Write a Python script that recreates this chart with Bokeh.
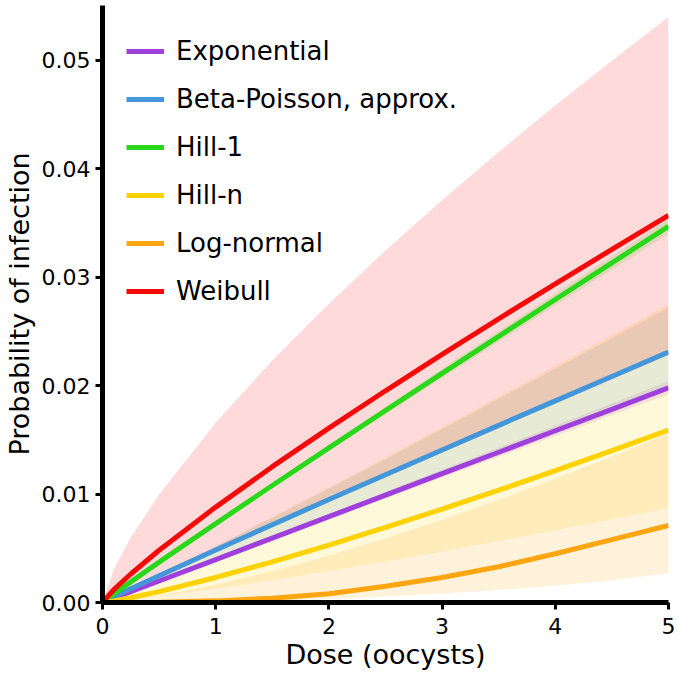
from bokeh.plotting import figure
from bokeh.models import Range1d, FixedTicker, Legend, LegendItem
from bokeh.embed import file_html
from bokeh.resources import INLINE

# ---- data ----
dose = [0, 0.1, 0.25, 0.5, 1, 1.5, 2, 2.5, 3, 3.5, 4, 4.5, 5]

exponential = [0, 0.0004, 0.00099, 0.00198, 0.00396, 0.00594, 0.00792, 0.0099, 0.01188, 0.01386, 0.01584, 0.01782, 0.0198]
exponential_lo = [0, 0.00038, 0.00096, 0.00192, 0.00384, 0.00576, 0.00768, 0.0096, 0.01152, 0.01344, 0.01536, 0.01729, 0.0192]
exponential_hi = [0, 0.00041, 0.00102, 0.00204, 0.00408, 0.00612, 0.00816, 0.0102, 0.01224, 0.01428, 0.01632, 0.01835, 0.0204]

beta_poisson = [0, 0.00052, 0.00126, 0.00247, 0.00485, 0.00718, 0.0095, 0.01179, 0.01407, 0.01634, 0.0186, 0.02085, 0.0231]
beta_poisson_lo = [0, 0.00044, 0.00107, 0.0021, 0.00411, 0.0061, 0.00806, 0.01, 0.01194, 0.01387, 0.01579, 0.01769, 0.0196]
beta_poisson_hi = [0, 0.00056, 0.00132, 0.0026, 0.0052, 0.00785, 0.01052, 0.01322, 0.01599, 0.01877, 0.02157, 0.02437, 0.0272]

hill1 = [0, 0.00078, 0.0019, 0.00372, 0.00728, 0.01079, 0.01427, 0.01771, 0.02114, 0.02455, 0.02795, 0.03133, 0.0347]
hill1_lo = [0, 0.00076, 0.00186, 0.00365, 0.00713, 0.01057, 0.01398, 0.01736, 0.02072, 0.02406, 0.02739, 0.0307, 0.034]
hill1_hi = [0, 0.0008, 0.00194, 0.0038, 0.00743, 0.01101, 0.01456, 0.01806, 0.02156, 0.02504, 0.02851, 0.03196, 0.0354]

hilln = [0, 0.00015, 0.00044, 0.001, 0.00231, 0.00375, 0.0053, 0.00692, 0.00861, 0.01036, 0.01216, 0.01401, 0.0159]
hilln_lo = [0, 0.00008, 0.00024, 0.00055, 0.00126, 0.00205, 0.0029, 0.00379, 0.00471, 0.00567, 0.00666, 0.00767, 0.0087]
hilln_hi = [0, 0.00047, 0.00122, 0.00251, 0.00516, 0.00787, 0.0106, 0.01337, 0.01617, 0.01898, 0.02181, 0.02464, 0.0275]

lognormal = [0, 0, 0.0, 0.00002, 0.00015, 0.0004, 0.0008, 0.0015, 0.0023, 0.0033, 0.0045, 0.0058, 0.0071]
lognormal_lo = [0, 0, 0, 0.00001, 0.00006, 0.00016, 0.00033, 0.00055, 0.00082, 0.00115, 0.00155, 0.00205, 0.0027]
lognormal_hi = [0, 0.00007, 0.00024, 0.00062, 0.00164, 0.00289, 0.00432, 0.00591, 0.00763, 0.00947, 0.01141, 0.01346, 0.0156]

weibull = [0, 0.00119, 0.00263, 0.00482, 0.0088, 0.01253, 0.01609, 0.01953, 0.02288, 0.02617, 0.0294, 0.03257, 0.0357]
weibull_lo = [0, 0.00051, 0.00125, 0.00245, 0.0048, 0.0071, 0.0094, 0.01167, 0.01393, 0.01618, 0.01841, 0.02064, 0.0228]
weibull_hi = [0, 0.00306, 0.006, 0.00996, 0.01658, 0.02232, 0.02756, 0.03246, 0.03711, 0.04156, 0.04584, 0.04998, 0.054]

model_names = ["Exponential", "Beta-Poisson, approx.", "Hill-1", "Hill-n", "Log-normal", "Weibull"]
x_ticks = [0, 1, 2, 3, 4, 5]
x_tick_labels = ["0", "1", "2", "3", "4", "5"]
y_ticks = [0, 0.01, 0.02, 0.03, 0.04, 0.05]
y_tick_labels = ["0.00", "0.01", "0.02", "0.03", "0.04", "0.05"]

colors = ["#A040DC", "#4496DA", "#2AD81A", "#FFD200", "#FFA510", "#F50A0A"]
lines = [exponential, beta_poisson, hill1, hilln, lognormal, weibull]
los = [exponential_lo, beta_poisson_lo, hill1_lo, hilln_lo, lognormal_lo, weibull_lo]
his = [exponential_hi, beta_poisson_hi, hill1_hi, hilln_hi, lognormal_hi, weibull_hi]

FONT = "DejaVu Sans"

p = figure(width=678, height=678, output_backend="svg", toolbar_location=None,
           x_range=Range1d(0, 5), y_range=Range1d(0, 0.05507),
           min_border_left=101, min_border_right=10, min_border_top=5, min_border_bottom=76)
p.xgrid.visible = False
p.ygrid.visible = False
p.outline_line_color = None
p.background_fill_color = "white"
p.border_fill_color = "white"

for lo, hi, c in zip(los, his, colors):
    p.varea(x=dose, y1=lo, y2=hi, fill_color=c, fill_alpha=0.15)

renderers = []
for vals, c in zip(lines, colors):
    r = p.line(dose, vals, line_color=c, line_width=5)
    renderers.append(r)

for ax in (p.xaxis[0], p.yaxis[0]):
    ax.axis_line_width = 5
    ax.axis_line_color = "black"
    ax.major_tick_line_width = 3
    ax.major_tick_line_color = "black"
    ax.major_tick_in = 0
    ax.major_tick_out = 7
    ax.minor_tick_line_color = None
    ax.major_label_text_font = FONT
    ax.major_label_text_font_size = "22px"
    ax.major_label_text_color = "black"
    ax.axis_label_text_font = FONT
    ax.axis_label_text_font_style = "normal"
    ax.axis_label_text_color = "black"
    ax.axis_label_text_font_size = "27px"

p.xaxis.ticker = FixedTicker(ticks=x_ticks)
p.xaxis.major_label_overrides = {t: l for t, l in zip(x_ticks, x_tick_labels)}
p.yaxis.ticker = FixedTicker(ticks=y_ticks)
p.yaxis.major_label_overrides = {t: l for t, l in zip(y_ticks, y_tick_labels)}

p.xaxis.axis_label = "Dose (oocysts)"
p.xaxis.major_label_standoff = 8
p.xaxis.axis_label_standoff = 2
p.yaxis.axis_label = "Probability of infection"
p.yaxis.major_label_standoff = 5
p.yaxis.axis_label_standoff = 4

legend = Legend(items=[LegendItem(label=n, renderers=[r]) for n, r in zip(model_names, renderers)],
                location="top_left")
legend.border_line_color = None
legend.background_fill_alpha = 0
legend.label_text_font = FONT
legend.label_text_font_size = "26px"
legend.label_text_color = "black"
legend.glyph_width = 38
legend.glyph_height = 44
legend.label_height = 44
legend.spacing = 4
legend.margin = 24
legend.padding = 0
legend.label_standoff = 12
p.add_layout(legend)

open("out.html", "w").write(file_html(p, INLINE))
